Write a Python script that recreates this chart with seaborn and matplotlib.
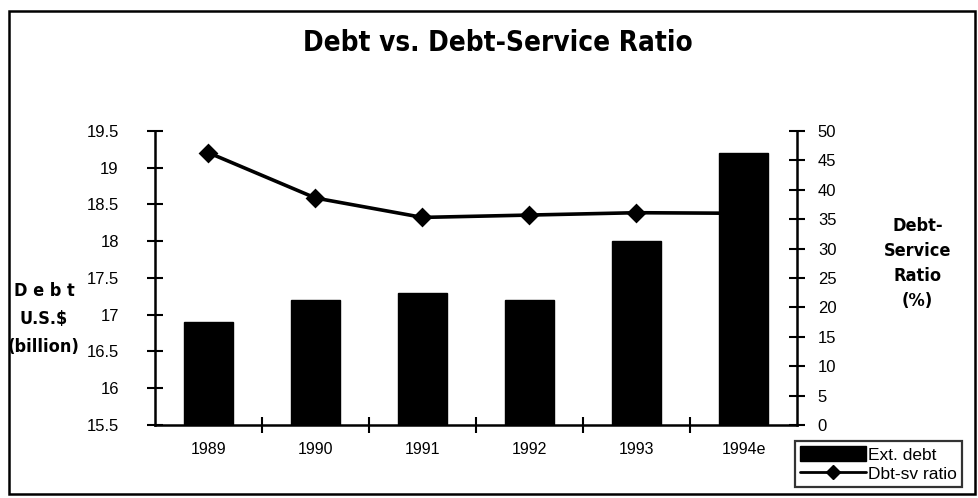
import matplotlib
matplotlib.use("Agg")
import matplotlib.pyplot as plt
import seaborn as sns
import pandas as pd
from matplotlib.patches import Patch, Rectangle
from matplotlib.lines import Line2D

years = ["1989", "1990", "1991", "1992", "1993", "1994e"]
ext_debt = [16.9, 17.2, 17.3, 17.2, 18.0, 19.2]
dbt_sv_ratio = [46.3, 38.6, 35.3, 35.7, 36.1, 36.0]
left_ticks = [15.5, 16, 16.5, 17, 17.5, 18, 18.5, 19, 19.5]
right_ticks = [0, 5, 10, 15, 20, 25, 30, 35, 40, 45, 50]

sns.set_theme(style="white")
plt.rcParams["font.family"] = ["Liberation Sans", "DejaVu Sans"]
for k in ("text.color", "axes.labelcolor", "xtick.color", "ytick.color",
          "axes.edgecolor"):
    plt.rcParams[k] = "black"
HEAD = ["DejaVu Sans", "Liberation Sans"]

df = pd.DataFrame({"year": years, "debt": ext_debt, "ratio": dbt_sv_ratio})

fig = plt.figure(figsize=(9.79, 4.98), dpi=100)
ax = fig.add_axes([0.1583, 0.1466, 0.8141 - 0.1583, 0.737 - 0.1466])
ax2 = ax.twinx()

sns.pointplot(data=df, x="year", y="ratio", ax=ax2, color="black",
              markers="D", linestyles="-", markersize=8, linewidth=2.6)
sns.barplot(data=df, x="year", y="debt", ax=ax, color="black",
            width=0.45, saturation=1, edgecolor="black")

ax.set_zorder(ax2.get_zorder() + 1)
ax.patch.set_visible(False)

ax.set_ylim(15.5, 19.5)
ax2.set_ylim(0, 50)
ax.set_xlim(-0.5, 5.5)
ax2.set_xlim(-0.5, 5.5)

ax.set_yticks(left_ticks)
ax.set_yticklabels([f"{v:g}" for v in left_ticks])
ax2.set_yticks(right_ticks)
ax2.set_yticklabels([f"{v:g}" for v in right_ticks])

ax.set_xticks(range(len(years)))
ax.set_xticklabels(years)
ax.set_xticks([0.5, 1.5, 2.5, 3.5, 4.5], minor=True)

for a in (ax, ax2):
    a.set_xlabel("")
    a.set_ylabel("")
    a.grid(False)
    for s in a.spines.values():
        s.set_visible(False)

ax.spines["left"].set_visible(True)
ax.spines["bottom"].set_visible(True)
ax2.spines["right"].set_visible(True)
for s in (ax.spines["left"], ax.spines["bottom"], ax2.spines["right"]):
    s.set_color("black")
    s.set_linewidth(1.8)

ax.tick_params(axis="x", which="major", length=0, pad=12, labelsize=11.5,
               colors="black")
ax.tick_params(axis="x", which="minor", direction="inout", length=11,
               width=1.5, color="black", bottom=True)
ax.tick_params(axis="y", direction="inout", length=12, width=1.5,
               pad=20, labelsize=12, colors="black", left=True)
ax2.tick_params(axis="y", direction="inout", length=12, width=1.5,
                pad=9, labelsize=12, colors="black", right=True)
ax2.tick_params(axis="x", length=0, labelbottom=False)

fig.text(0.509, 0.914, "Debt vs. Debt-Service Ratio", ha="center",
         va="center", fontsize=20, fontweight="heavy", family=HEAD,
         fontstretch="condensed")
fig.text(0.045, 0.36, "D e b t\nU.S.$\n(billion)", ha="center", va="center",
         fontsize=13, fontweight="heavy", family=HEAD, linespacing=1.7,
         fontstretch="condensed")
fig.text(0.937, 0.47, "Debt-\nService\nRatio\n(%)", ha="center",
         va="center", fontsize=13, fontweight="heavy", family=HEAD,
         linespacing=1.5, fontstretch="condensed")

handles = [Patch(facecolor="black", edgecolor="black", label="Ext. debt"),
           Line2D([], [], color="black", marker="D", markersize=7,
                  linewidth=2, label="Dbt-sv ratio")]
leg = fig.legend(handles=handles, loc="lower left",
                 bbox_to_anchor=(0.812, 0.022), fontsize=12.5,
                 frameon=True, fancybox=False, shadow=False,
                 handlelength=3.8, handleheight=1.0, handletextpad=0.1,
                 borderpad=0.3, labelspacing=0.15, borderaxespad=0)
leg.get_frame().set_edgecolor("black")
leg.get_frame().set_linewidth(1.6)

fig.patches.append(Rectangle((0.009, 0.008), 0.987, 0.97,
                             transform=fig.transFigure, fill=False,
                             edgecolor="black", linewidth=1.8))

fig.savefig("out.png", dpi=100)
